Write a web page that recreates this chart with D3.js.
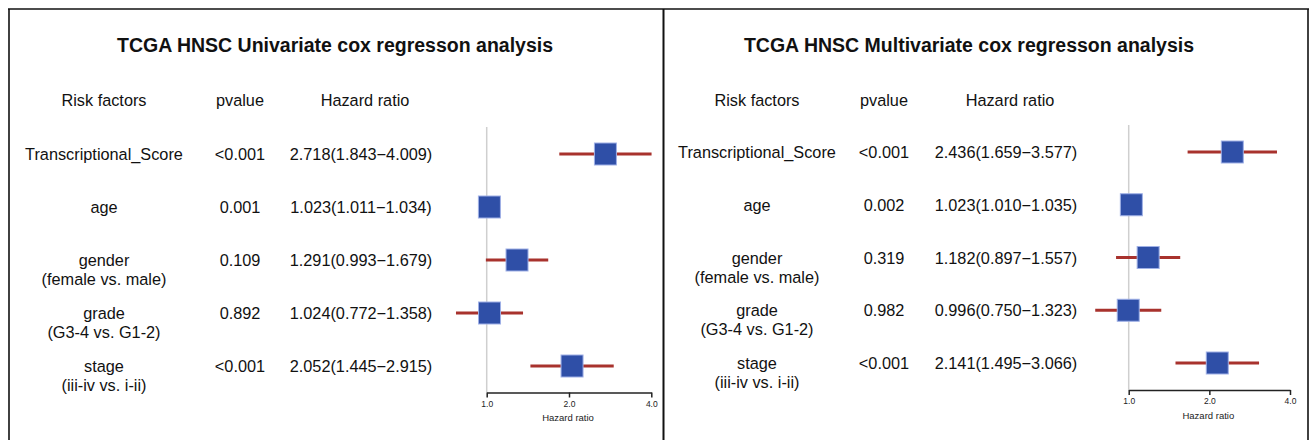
<!DOCTYPE html>
<html>
<head>
<meta charset="utf-8">
<script src="https://cdn.jsdelivr.net/npm/d3@7"></script>
<style>
  html, body { margin: 0; padding: 0; background: #ffffff; }
  svg { display: block; font-family: Arial, "Liberation Sans", Helvetica, sans-serif; }
</style>
</head>
<body>
<svg id="chart" width="1312" height="440"></svg>
<script>
// Risk factors and their comparison sub-labels
const factors = ["Transcriptional_Score", "age", "gender", "grade", "stage"];
const subLabels = ["", "", "(female vs. male)", "(G3-4 vs. G1-2)", "(iii-iv vs. i-ii)"];

// Univariate Cox regression
const uniP = ["<0.001", "0.001", "0.109", "0.892", "<0.001"];
const uniHR = [2.718, 1.023, 1.291, 1.024, 2.052];
const uniLow = [1.843, 1.011, 0.993, 0.772, 1.445];
const uniHigh = [4.009, 1.034, 1.679, 1.358, 2.915];

// Multivariate Cox regression
const multiP = ["<0.001", "0.002", "0.319", "0.982", "<0.001"];
const multiHR = [2.436, 1.023, 1.182, 0.996, 2.141];
const multiLow = [1.659, 1.010, 0.897, 0.750, 1.495];
const multiHigh = [3.577, 1.035, 1.557, 1.323, 3.066];

// Axis ticks
const tickValues = [1, 2, 4];
const tickLabels = ["1.0", "2.0", "4.0"];

const headers = ["Risk factors", "pvalue", "Hazard ratio"];

const svg = d3.select("#chart");
const fmt = d3.format(".3f");
const bodySize = 16.3;

// Panel frames
const frame = svg.append("g").attr("fill", "none").attr("stroke", "#111");
frame.append("line").attr("x1", 8).attr("x2", 1309).attr("y1", 9).attr("y2", 9).attr("stroke-width", 1.6);
frame.append("line").attr("x1", 9).attr("x2", 9).attr("y1", 9).attr("y2", 440).attr("stroke-width", 1.6);
frame.append("line").attr("x1", 663.5).attr("x2", 663.5).attr("y1", 9).attr("y2", 440).attr("stroke-width", 2);
frame.append("line").attr("x1", 1308).attr("x2", 1308).attr("y1", 9).attr("y2", 440).attr("stroke-width", 1.6);

function drawPanel(cfg) {
  const g = svg.append("g");

  // Title
  g.append("text")
    .attr("x", cfg.titleX).attr("y", 45)
    .attr("text-anchor", "middle").attr("dominant-baseline", "central")
    .attr("font-size", 19.5).attr("font-weight", "bold").attr("fill", "#111")
    .text(cfg.title);

  // Column headers
  g.selectAll("text.hdr").data(headers).join("text")
    .attr("class", "hdr")
    .attr("x", (d, i) => cfg.colX[i]).attr("y", 100)
    .attr("text-anchor", "middle").attr("dominant-baseline", "central")
    .attr("font-size", bodySize).attr("fill", "#111")
    .text(d => d);

  const y = d3.scalePoint().domain(factors).range(cfg.rowRange);
  const x = d3.scaleLog().base(2).domain([1, 4]).range(cfg.xRange);

  const rows = factors.map((f, i) => ({
    f, sub: subLabels[i], p: cfg.p[i], hr: cfg.hr[i], lo: cfg.lo[i], hi: cfg.hi[i]
  }));

  const txt = g.append("g").attr("font-size", bodySize).attr("fill", "#111")
    .attr("text-anchor", "middle");

  txt.selectAll("text.name").data(rows).join("text")
    .attr("class", "name")
    .attr("x", cfg.colX[0]).attr("y", d => y(d.f))
    .attr("dominant-baseline", "central")
    .text(d => d.f);
  txt.selectAll("text.sub").data(rows.filter(d => d.sub)).join("text")
    .attr("class", "sub")
    .attr("x", cfg.colX[0]).attr("y", d => y(d.f) + 19)
    .attr("dominant-baseline", "central")
    .text(d => d.sub);
  txt.selectAll("text.p").data(rows).join("text")
    .attr("class", "p")
    .attr("x", cfg.colX[1]).attr("y", d => y(d.f))
    .attr("dominant-baseline", "central")
    .text(d => d.p);
  txt.selectAll("text.hr").data(rows).join("text")
    .attr("class", "hr")
    .attr("x", cfg.colX[2] - 4).attr("y", d => y(d.f))
    .attr("dominant-baseline", "central")
    .text(d => `${fmt(d.hr)}(${fmt(d.lo)}\u2212${fmt(d.hi)})`);

  // Reference line at HR = 1
  g.append("line")
    .attr("x1", x(1)).attr("x2", x(1))
    .attr("y1", cfg.refTop).attr("y2", cfg.axisY)
    .attr("stroke", "#cfcfcf").attr("stroke-width", 1.5);

  // Confidence intervals
  g.selectAll("line.ci").data(rows).join("line")
    .attr("class", "ci")
    .attr("x1", d => x(d.lo)).attr("x2", d => x(d.hi))
    .attr("y1", d => y(d.f)).attr("y2", d => y(d.f))
    .attr("stroke", "#a8322d").attr("stroke-width", 3);

  // Point estimates
  const box = 22;
  g.selectAll("rect.est").data(rows).join("rect")
    .attr("class", "est")
    .attr("x", d => x(d.hr) - box / 2).attr("y", d => y(d.f) - box / 2)
    .attr("width", box).attr("height", box)
    .attr("fill", "#2f4fa7").attr("stroke", "#9fb0e6").attr("stroke-width", 1);

  // Axis
  const axis = d3.axisBottom(x)
    .tickValues(tickValues)
    .tickFormat((d, i) => tickLabels[i])
    .tickSizeInner(5).tickSizeOuter(0).tickPadding(3);
  const ax = g.append("g").attr("transform", `translate(0,${cfg.axisY})`).call(axis);
  ax.select(".domain").attr("stroke", "#222").attr("stroke-width", 1.5);
  ax.selectAll(".tick line").attr("stroke", "#222").attr("stroke-width", 1.5);
  ax.selectAll(".tick text").attr("font-size", 8.5).attr("fill", "#222")
    .attr("font-family", "Arial, 'Liberation Sans', sans-serif");

  g.append("text")
    .attr("x", x(Math.sqrt(1 * 4)) - 1).attr("y", cfg.axisY + 25)
    .attr("text-anchor", "middle").attr("dominant-baseline", "central")
    .attr("font-size", 9.5).attr("fill", "#222")
    .text("Hazard ratio");
}

drawPanel({
  title: "TCGA HNSC Univariate cox regresson analysis",
  titleX: 335,
  colX: [104, 240, 365],
  rowRange: [154, 366],
  xRange: [486.7, 651.3],
  refTop: 127,
  axisY: 392.5,
  p: uniP, hr: uniHR, lo: uniLow, hi: uniHigh
});

drawPanel({
  title: "TCGA HNSC Multivariate cox regresson analysis",
  titleX: 969,
  colX: [757, 884, 1010],
  rowRange: [152, 363],
  xRange: [1128.7, 1290],
  refTop: 125,
  axisY: 390,
  p: multiP, hr: multiHR, lo: multiLow, hi: multiHigh
});
</script>
</body>
</html>
